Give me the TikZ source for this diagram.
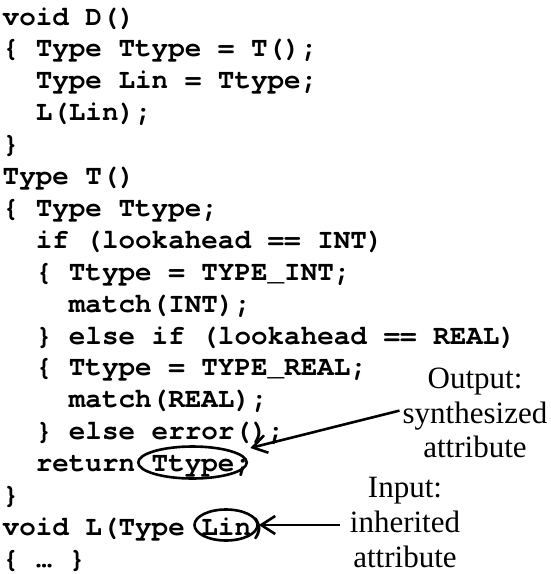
\documentclass[tikz,border=0pt]{standalone}
\usepackage{fontspec}
\usetikzlibrary{shapes.geometric,arrows.meta}
\newfontfamily\codefont{texgyrecursor}[Extension=.otf,UprightFont=*-regular,BoldFont=*-bold]
\newfontfamily\notefont{Liberation Serif}
\begin{document}
\begin{tikzpicture}[x=1pt,y=-1pt,
    code/.style={anchor=base west,inner sep=0pt,font=\codefont\bfseries\fontsize{27.6}{32}\selectfont},
    note/.style={anchor=base,inner sep=3pt,font=\notefont\fontsize{31}{34}\selectfont},
    ring/.style={draw,ellipse,line width=2.6pt,inner sep=0pt},
    pointer/.style={line width=2.6pt,-{Straight Barb[length=14pt,width=18pt]}}]
  \useasboundingbox (0,0) rectangle (551,574);
  % the code
  \draw
    (2.5,25) node[code] (line1) {void D()}
    (2.5,56.9) node[code] (line2) {\{ Type Ttype = T();}
    (35.6,88.8) node[code] (line3) {Type Lin = Ttype;}
    (35.6,120.7) node[code] (line4) {L(Lin);}
    (2.5,152.6) node[code] (line5) {\}}
    (2.5,184.5) node[code] (line6) {Type T()}
    (2.5,216.4) node[code] (line7) {\{ Type Ttype;}
    (35.6,248.3) node[code] (line8) {if (lookahead == INT)}
    (35.6,280.2) node[code] (line9) {\{ Ttype = TYPE\_INT;}
    (68.7,312.1) node[code] (line10) {match(INT);}
    (35.6,344.0) node[code] (line11) {\} else if (lookahead == REAL)}
    (35.6,375.9) node[code] (line12) {\{ Ttype = TYPE\_REAL;}
    (68.7,407.8) node[code] (line13) {match(REAL);}
    (35.6,439.7) node[code] (line14) {\} else error();}
    (35.6,471.6) node[code] (line15) {return Ttype;}
    (2.5,503.5) node[code] (line16) {\}}
    (2.5,535.4) node[code] (line17) {void L(Type Lin)}
    (2.5,567.3) node[code] (line18) {\{ … \}};
  % the notes
  \draw
    (475,388) node[note] (out1) {Output:}
    (475,423) node[note] (out2) {synthesized}
    (475,457) node[note] (out3) {attribute}
    (405,497) node[note] (in1) {Input:}
    (405,532) node[note,inner xsep=10pt] (in2) {inherited}
    (405,567) node[note] (in3) {attribute};
  \node[ring,minimum width=108.5pt,minimum height=32pt] (ttype) at (192.5,462.5) {};
  \node[ring,minimum width=63pt,minimum height=31pt] (lin) at (226,525) {};
  \begin{scope}[pointer]
    \draw[shorten >=15pt] ([yshift=5pt]out2.west) to (ttype);
    \draw (in2.west |- lin) to (lin);
  \end{scope}
\end{tikzpicture}
\end{document}
